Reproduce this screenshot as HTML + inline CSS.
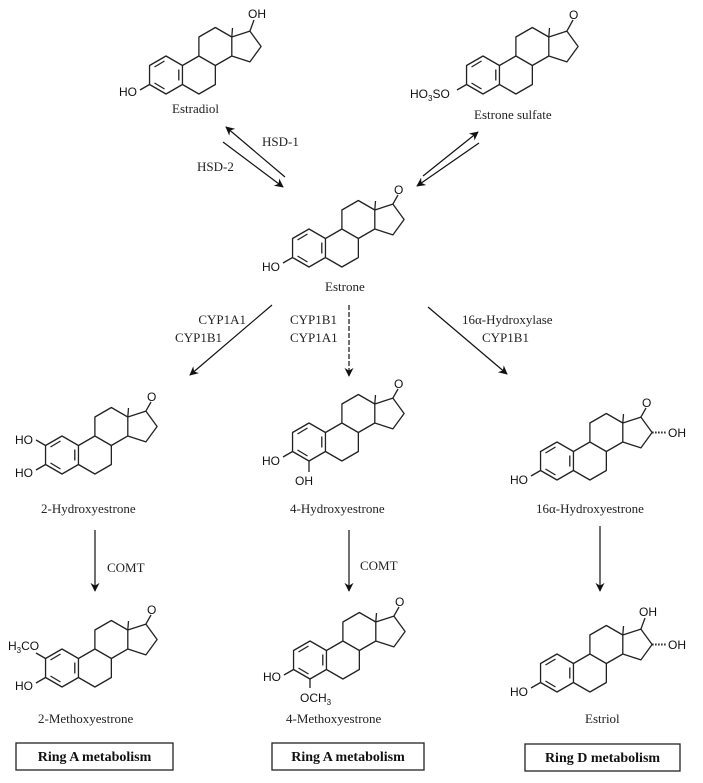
<!DOCTYPE html>
<html><head><meta charset="utf-8"><style>
html,body{margin:0;padding:0;background:#fff;}
svg{display:block;}
.l{font-family:"Liberation Serif",serif;font-size:13px;fill:#222;}
.c{font-family:"Liberation Sans",sans-serif;font-size:12px;fill:#111;}
.b{font-family:"Liberation Serif",serif;font-size:14px;font-weight:bold;fill:#111;}
</style></head><body>
<svg width="703" height="783" viewBox="0 0 703 783" xmlns="http://www.w3.org/2000/svg">
<defs>
<marker id="ah" viewBox="0 0 10 10" refX="9" refY="5" markerWidth="9" markerHeight="9" orient="auto" markerUnits="userSpaceOnUse">
<path d="M0,0 L10,5 L0,10 L3,5 Z" fill="#111"/></marker>
<g id="sk" fill="none" stroke="#222" stroke-width="1.3" stroke-linejoin="round">
<path d="M16.45,-9.5 L0,-19 L-16.45,-9.5 L-16.45,9.5 L0,19 L16.45,9.5 Z M16.45,-9.5 L32.9,-19 L49.35,-9.5 L49.35,9.5 L32.9,19 L16.45,9.5 M32.9,-19 L32.9,-38 L49.35,-47.5 L65.8,-38 L65.8,-19 L49.35,-9.5 M65.8,-38 L83.9,-43.9 L95.1,-28.5 L83.9,-13.1 L65.8,-19 M65.8,-38 L66.5,-47"/>
<path d="M-1.5,-14 L-11.5,-8 M12.8,5.5 L12.8,-5.5 M-11.5,8 L-1.5,14"/>
</g>
</defs>

<g transform="translate(166,75)">
<use href="#sk"/>
<path d="M-16.45,9.5 L-26,15 M83.9,-43.9 L88,-55" stroke="#222" stroke-width="1.3"/>
<text class="c" x="-47" y="21">HO</text>
<text class="c" x="82" y="-57">OH</text>
</g>
<text class="l" x="172" y="113">Estradiol</text>

<g transform="translate(483,75)">
<use href="#sk"/>
<path d="M-16.45,9.5 L-26,15 M83.9,-43.9 L90,-55" stroke="#222" stroke-width="1.3"/>
<text class="c" x="-73" y="23">HO<tspan font-size="8" dy="3">3</tspan><tspan dy="-3">SO</tspan></text>
<text class="c" x="86" y="-56">O</text>
</g>
<text class="l" x="474" y="119">Estrone sulfate</text>

<line x1="285" y1="177" x2="226" y2="127" stroke="#111" stroke-width="1.2" marker-end="url(#ah)"/>
<line x1="223" y1="142" x2="283" y2="187" stroke="#111" stroke-width="1.2" marker-end="url(#ah)"/>
<text class="l" x="262" y="146">HSD-1</text>
<text class="l" x="197" y="171">HSD-2</text>
<line x1="423" y1="176" x2="478" y2="132" stroke="#111" stroke-width="1.2" marker-end="url(#ah)"/>
<line x1="479" y1="143" x2="417" y2="186" stroke="#111" stroke-width="1.2" marker-end="url(#ah)"/>

<g transform="translate(309,248)">
<use href="#sk"/>
<path d="M-16.45,9.5 L-26,15 M83.9,-43.9 L89,-53" stroke="#222" stroke-width="1.3"/>
<text class="c" x="-47" y="23">HO</text>
<text class="c" x="85" y="-54">O</text>
</g>
<text class="l" x="325" y="291">Estrone</text>

<line x1="272" y1="305" x2="190" y2="375" stroke="#111" stroke-width="1.2" marker-end="url(#ah)"/>
<line x1="349" y1="305" x2="349" y2="376" stroke="#111" stroke-width="1.2" stroke-dasharray="5,2" marker-end="url(#ah)"/>
<line x1="428" y1="307" x2="507" y2="374" stroke="#111" stroke-width="1.2" marker-end="url(#ah)"/>
<text class="l" x="246" y="324" text-anchor="end">CYP1A1</text>
<text class="l" x="222" y="342" text-anchor="end">CYP1B1</text>
<text class="l" x="290" y="324">CYP1B1</text>
<text class="l" x="290" y="342">CYP1A1</text>
<text class="l" x="462" y="324">16α-Hydroxylase</text>
<text class="l" x="482" y="342">CYP1B1</text>

<g transform="translate(62,455)">
<use href="#sk"/>
<path d="M-16.45,9.5 L-26,15 M-16.45,-9.5 L-26,-15 M83.9,-43.9 L89,-53" stroke="#222" stroke-width="1.3"/>
<text class="c" x="-47" y="-11">HO</text>
<text class="c" x="-47" y="22">HO</text>
<text class="c" x="85" y="-54">O</text>
</g>
<text class="l" x="41" y="513">2-Hydroxyestrone</text>

<g transform="translate(309,442)">
<use href="#sk"/>
<path d="M-16.45,9.5 L-26,15 M0,19 L0,30" stroke="#222" stroke-width="1.3"/>
<path d="M83.9,-43.9 L89,-53" stroke="#222" stroke-width="1.3"/>
<text class="c" x="-47" y="23">HO</text>
<text class="c" x="-14" y="43">OH</text>
<text class="c" x="85" y="-54">O</text>
</g>
<text class="l" x="290" y="513">4-Hydroxyestrone</text>

<g transform="translate(557,461)">
<use href="#sk"/>
<path d="M-16.45,9.5 L-26,15 M83.9,-43.9 L89,-53" stroke="#222" stroke-width="1.3"/>
<path d="M95.1,-28.5 L109,-28.5" stroke="#222" stroke-width="2" stroke-dasharray="1.5,1.5"/>
<text class="c" x="-47" y="23">HO</text>
<text class="c" x="85" y="-54">O</text>
<text class="c" x="111" y="-24">OH</text>
</g>
<text class="l" x="536" y="513">16α-Hydroxyestrone</text>

<line x1="95" y1="530" x2="95" y2="591" stroke="#111" stroke-width="1.2" marker-end="url(#ah)"/>
<line x1="349" y1="530" x2="349" y2="591" stroke="#111" stroke-width="1.2" marker-end="url(#ah)"/>
<line x1="600" y1="526" x2="600" y2="591" stroke="#111" stroke-width="1.2" marker-end="url(#ah)"/>
<text class="l" x="107" y="572">COMT</text>
<text class="l" x="360" y="570">COMT</text>

<g transform="translate(62,668)">
<use href="#sk"/>
<path d="M-16.45,9.5 L-26,15 M-16.45,-9.5 L-26,-15 M83.9,-43.9 L89,-53" stroke="#222" stroke-width="1.3"/>
<text class="c" x="-54" y="-18">H<tspan font-size="8" dy="3">3</tspan><tspan dy="-3">CO</tspan></text>
<text class="c" x="-47" y="22">HO</text>
<text class="c" x="85" y="-54">O</text>
</g>
<text class="l" x="38" y="723">2-Methoxyestrone</text>

<g transform="translate(310,660)">
<use href="#sk"/>
<path d="M-16.45,9.5 L-26,15 M0,19 L0,28 M83.9,-43.9 L89,-53" stroke="#222" stroke-width="1.3"/>
<text class="c" x="-47" y="21">HO</text>
<text class="c" x="-10" y="42">OCH<tspan font-size="8" dy="3">3</tspan></text>
<text class="c" x="85" y="-54">O</text>
</g>
<text class="l" x="286" y="723">4-Methoxyestrone</text>

<g transform="translate(557,673)">
<use href="#sk"/>
<path d="M-16.45,9.5 L-26,15 M83.9,-43.9 L88,-55" stroke="#222" stroke-width="1.3"/>
<path d="M95.1,-28.5 L109,-28.5" stroke="#222" stroke-width="2" stroke-dasharray="1.5,1.5"/>
<text class="c" x="-47" y="23">HO</text>
<text class="c" x="82" y="-57">OH</text>
<text class="c" x="111" y="-24">OH</text>
</g>
<text class="l" x="585" y="723">Estriol</text>

<rect x="16" y="743" width="157" height="27" fill="none" stroke="#222" stroke-width="1.3"/>
<text class="b" x="94.5" y="761" text-anchor="middle">Ring A metabolism</text>
<rect x="272" y="743" width="152" height="27" fill="none" stroke="#222" stroke-width="1.3"/>
<text class="b" x="348" y="761" text-anchor="middle">Ring A metabolism</text>
<rect x="525" y="744" width="155" height="27" fill="none" stroke="#222" stroke-width="1.3"/>
<text class="b" x="602.5" y="762" text-anchor="middle">Ring D metabolism</text>
</svg>
</body></html>
